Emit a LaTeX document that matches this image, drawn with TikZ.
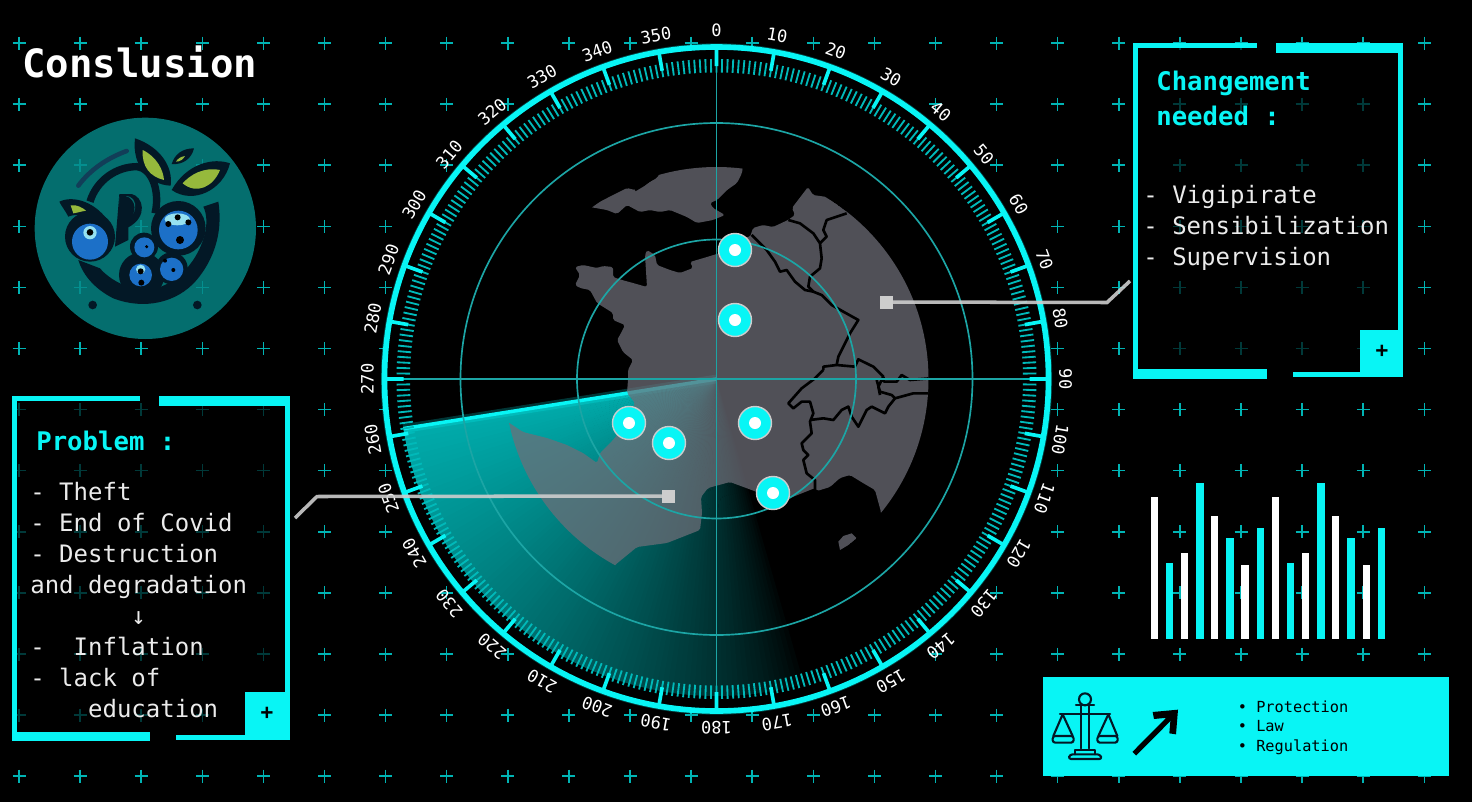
\documentclass[tikz,border=0pt]{standalone}
\usepackage{fontspec}
\setmainfont{DejaVu Sans Mono}
\usetikzlibrary{arrows.meta,calc}
\definecolor{scan}{RGB}{8,245,245}
\definecolor{sweepc}{RGB}{0,172,172}
\definecolor{dimline}{RGB}{28,165,165}
\definecolor{crossc}{RGB}{0,180,180}
\definecolor{minorc}{RGB}{0,185,185}
\definecolor{landc}{RGB}{110,110,120}
\definecolor{leadc}{RGB}{205,205,205}
\definecolor{logoc}{RGB}{6,135,135}
\definecolor{logoink}{RGB}{3,24,38}
\definecolor{logoarc}{RGB}{18,62,88}
\definecolor{berry}{RGB}{28,112,200}
\definecolor{berrylite}{RGB}{150,225,240}
\definecolor{leafc}{RGB}{150,185,60}

\begin{document}
\begin{tikzpicture}[
  x=0.02cm, y=-0.02cm,
  crossmark/.style={crossc, line width=0.85pt},
  frameback/.style={fill=black, opacity=0.68},
  framebar/.style={fill=scan},
  titletext/.style={text=white, font=\fontsize{22.2}{26}\bfseries\selectfont, anchor=base west, inner sep=0pt},
  headtext/.style={text=scan, align=left, font=\fontsize{14.6}{19.9}\bfseries\selectfont, anchor=base west, inner sep=0pt},
  bodytext/.style={text=white!92!black, align=left, font=\fontsize{13.66}{17.6}\selectfont, anchor=base west, inner sep=0pt},
  plusmark/.style={text=black, font=\fontsize{12}{12}\bfseries\selectfont, inner sep=0pt},
  lawtext/.style={text=black, align=left, font=\fontsize{8.7}{11.1}\selectfont, anchor=base west, inner sep=0pt},
  dialtext/.style={text=white, font=\fontsize{9.7}{10}\selectfont, inner sep=0pt},
  lawbox/.style={fill=scan, anchor=north west, inner sep=0pt, minimum width=8.12cm, minimum height=1.98cm},
  locdot/.style={circle, draw=leadc, fill=scan, line width=0.8pt, minimum size=0.66cm, inner sep=0pt},
  dotcore/.style={circle, fill=white, minimum size=0.24cm, inner sep=0pt},
  leadsq/.style={fill=leadc, minimum size=0.26cm, inner sep=0pt},
  leadline/.style={leadc, line width=2pt, opacity=0.9},
  rangering/.style={dimline, line width=0.95pt},
  minortick/.style={minorc, line width=1.05pt},
  majortick/.style={scan, line width=2.1pt},
  borderline/.style={black, line width=1.5pt, line join=round},
  inkline/.style={logoink, line width=1.2pt, line join=round, line cap=round}
]
\useasboundingbox (0,0) rectangle (1472,802);
\fill[black] (0,0) rectangle (1472,802);

\draw[crossmark] \foreach \i in {0,...,23}{\foreach \j in {0,...,12}{
  ({19+61.1*\i-6.5},{43+61.1*\j}) -- ++(13,0) ({19+61.1*\i},{43+61.1*\j-6.5}) -- ++(0,13)}};

\node[titletext] (title) at (22,77) {Conslusion};

\begin{scope}[shift={(0,20)}, scale=1/3]
  \fill[logoc, opacity=0.82] (436,625) circle (332);
  \draw[logoarc, line width=2.6pt, line cap=round] (235,497) .. controls (270,450) and (320,415) .. (380,393);
  \draw[logoink, line width=4.2pt] (270,545) .. controls (290,480) and (350,440) .. (410,440) .. controls (460,445) and (480,520) .. (465,580);
  \fill[logoink] (358,522) -- (395,522) .. controls (430,530) and (445,590) .. (385,622) -- (385,660) -- (345,680) -- cycle;
  \fill[logoc!78!black] (358,530) -- (362,590) .. controls (385,590) and (410,590) .. (405,550) .. controls (400,530) and (385,525) .. cycle;
  \fill[logoink] (358,528) -- (376,528) .. controls (410,535) and (415,590) .. (378,596) -- (358,596) -- cycle;
  \fill[logoink] (655,545) .. controls (670,640) and (640,720) .. (590,780) .. controls (530,850) and (430,870) .. (340,835) .. controls (290,810) and (250,770) .. (235,720) -- (300,745) .. controls (330,780) and (380,805) .. (430,810) .. controls (510,810) and (590,740) .. (615,640) .. controls (622,610) and (620,580) .. (610,560) -- cycle;
  \foreach \bx/\by/\hr in {270/650/75, 535/625/82, 425/765/68, 432/680/42, 515/745/48}{
    \fill[logoink] (\bx,\by) circle (\hr);
  }
  \foreach \bx/\by/\br in {270/665/54, 535/630/58, 422/765/34, 433/682/30, 515/748/35}{
    \fill[berry] (\bx,\by) circle (\br);
  }
  \fill[berrylite] (270,638) circle (20);
  \fill[berrylite] (532,598) ellipse (38 and 18);
  \fill[berrylite] (422,748) circle (14);
  \foreach \bx/\by/\br in {270/637/10, 505/612/9, 533/592/9, 565/607/9, 540/660/12, 422/754/9, 424/788/9, 440/680/5, 495/722/6, 520/750/6}{
    \fill[black] (\bx,\by) circle (\br);
  }
  \fill[logoink] (405,355) .. controls (480,380) and (520,440) .. (512,497) .. controls (450,495) and (395,440) .. cycle;
  \fill[leafc] (428,390) .. controls (470,410) and (490,450) .. (492,480) .. controls (450,470) and (425,440) .. cycle;
  \fill[logoink] (690,430) .. controls (640,412) and (560,430) .. (515,510) .. controls (580,555) and (670,510) .. cycle;
  \fill[leafc] (660,450) .. controls (610,440) and (570,465) .. (548,490) .. controls (590,525) and (640,500) .. cycle;
  \fill[logoink] (582,385) .. controls (550,385) and (525,400) .. (515,432) .. controls (550,435) and (575,415) .. cycle;
  \fill[leafc] (555,408) .. controls (540,410) and (532,418) .. (528,425) .. controls (540,425) and (550,418) .. cycle;
  \fill[logoink] (178,545) .. controls (230,520) and (310,560) .. (335,625) -- (280,592) .. controls (245,580) and (215,585) .. (205,590) .. controls (195,570) and (185,560) .. cycle;
  \fill[leafc] (212,556) .. controls (230,552) and (250,565) .. (258,572) .. controls (240,575) and (225,580) .. (220,580) -- cycle;
  \fill[logoink] (278,855) circle (13);
  \fill[logoink] (592,855) circle (13);
\end{scope}

\fill[frameback] (12,396) rectangle (290,740);
\fill[framebar] (12,396) rectangle (140,400.5);
\fill[framebar] (159,396) rectangle (290,405.5);
\fill[framebar] (12,396) rectangle (17,741);
\fill[framebar] (285,396) rectangle (290,740);
\fill[framebar] (12,732) rectangle (150,741);
\fill[framebar] (176,735) rectangle (245,740);
\fill[framebar] (245,692) rectangle (290,740);
\node[plusmark] (plusleft) at (267,713) {+};
\node[headtext] (probhead) at (36,450) {Problem :};
\node[bodytext] (probtext) at (30,717) {-~Theft\\-~End of Covid\\-~Destruction\\and degradation\\~~~~~~~↓\\-~~Inflation\\-~lack of\\~~~~education};

\fill[frameback] (1133,43) rectangle (1403,378);
\fill[framebar] (1133,43) rectangle (1257,48);
\fill[framebar] (1276,43) rectangle (1403,53);
\fill[framebar] (1133,43) rectangle (1138,378.5);
\fill[framebar] (1398,43) rectangle (1403,377);
\fill[framebar] (1133,369) rectangle (1267,378.5);
\fill[framebar] (1293,372) rectangle (1360,377);
\fill[framebar] (1360,330) rectangle (1403,377);
\node[plusmark] (plusright) at (1382,351) {+};
\node[headtext] (needhead) at (1156,125) {Changement\\needed :};
\node[bodytext] (needtext) at (1143,265) {-~Vigipirate\\-~Sensibilization\\-~Supervision};

\begin{scope}[shift={(1030,470)}, scale=1/3]
  \foreach \bx/\btop/\bcol in {373/80/white, 418/278/scan, 464/250/white, 510/38/scan, 554/138/white, 600/205/scan, 645/286/white, 691/174/scan, 736/80/white, 782/278/scan, 827/250/white, 873/38/scan, 917/138/white, 963/205/scan, 1009/286/white, 1054/174/scan}{
    \fill[\bcol] ({\bx-11},\btop) rectangle ({\bx+11},508);
  }
\end{scope}

\node[lawbox] (lawpanel) at (1043,677) {};
\node[lawtext] (lawlist) at (1237.5,751) {•~Protection\\•~Law\\•~Regulation};

\begin{scope}[shift={(1030,470)}, scale=1/3]
  \draw[inkline] (165,688) circle (18);
  \draw[inkline] (152,706) -- (152,835) (178,706) -- (178,835) (138,705) -- (192,705);
  \draw[inkline] (90,733) -- (240,733);
  \draw[inkline] (70,798) -- (98,733) -- (128,798) (205,798) -- (235,733) -- (262,798);
  \draw[inkline, rounded corners=1.5pt] (68,798) rectangle (131,818);
  \draw[inkline, rounded corners=1.5pt] (202,798) rectangle (263,818);
  \draw[inkline] (135,853) -- (135,840) -- (195,840) -- (195,853);
  \draw[inkline, rounded corners=1.5pt] (115,867) -- (120,853) -- (210,853) -- (216,867) -- cycle;
  \draw[black, line width=3pt] (313,851) -- (425,738);
  \fill[black] (368,726) -- (444,719) -- (438,793) -- (418,790) -- (422,742) -- (372,747) -- cycle;
\end{scope}

\begin{scope}[shift={(716.5,379)}]
  \fill[black] (0,0) circle (332);
  \foreach \b in {164,...,260}{
    \pgfmathsetmacro{\amt}{100*((\b-163)/98)^0.72}
    \fill[sweepc!\amt!black] (0,0) -- ({\b-90}:317) -- ({\b-88.8}:317) -- cycle;
  }
  \draw[scan, line width=5pt, opacity=0.22] (0,0) -- ({261-90}:317);
  \draw[scan, line width=2pt] (0,0) -- ({261-90}:317);
\end{scope}

\begin{scope}
  \clip (716.5,379) circle (212);
  \fill[landc, opacity=0.73, rounded corners=1pt]
    (808,187) -- (813,195) -- (827,197) -- (847,212) -- (1000,250) -- (1000,560) -- (881,520) -- (881,512) -- (875,490) -- (863,483) -- (850,475) -- (840,478) -- (830,487) -- (817,491) -- (815,488) -- (790,498) -- (773,493) -- (757,492) -- (730,482) -- (708,488) -- (701,497) -- (702,513) -- (700,530) -- (667,543) -- (637,547) -- (615,565) -- (560,640) -- (440,500) -- (490,420) -- (508,422) -- (523,432) -- (547,438) -- (567,445) -- (583,453) -- (597,463) -- (600,453) -- (613,440) -- (627,423) -- (635,403) -- (627,393) -- (628,380) -- (628,370) -- (633,360) -- (623,352) -- (617,340) -- (620,335) -- (625,325) -- (613,320) -- (613,313) -- (597,303) -- (590,290) -- (580,288) -- (575,285) -- (580,275) -- (575,267) -- (583,265) -- (597,268) -- (603,266) -- (613,267) -- (613,277) -- (622,280) -- (633,283) -- (647,287) -- (645,255) -- (647,250) -- (655,255) -- (657,265) -- (670,270) -- (680,273) -- (693,268) -- (690,262) -- (707,257) -- (720,253) -- (735,237) -- (750,237) -- (753,228) -- (763,225) -- (773,227) -- (788,220) -- (795,215) -- (792,208) -- cycle;
  \fill[landc, opacity=0.73, rounded corners=1pt]
    (590,207) -- (613,195) -- (627,188) -- (635,190) -- (657,178) -- (660,173) -- (660,150) -- (745,150) -- (742,173) -- (737,183) -- (727,190) -- (717,200) -- (710,203) -- (713,208) -- (725,215) -- (713,220) -- (697,223) -- (687,217) -- (670,210) -- (660,212) -- (650,210) -- (640,212) -- (627,205) -- (617,214) -- (607,210) -- cycle;
  \begin{scope}[shift={(760,370)}, scale=1/3]
    \fill[landc, opacity=0.73] (240,540) -- (235,515) -- (250,498) -- (275,490) -- (290,505) -- (265,525) -- cycle;
  \end{scope}
  \begin{scope}[shift={(480,140)}, scale=1/3]
    \draw[borderline] (465,150) -- (490,135) -- (530,105);
    \draw[borderline] (815,285) -- (860,330) -- (885,365) -- (900,395) -- (920,390) -- (945,425) -- (975,450) -- (1000,455) -- (1025,465) -- (1055,495) -- (1090,515) -- (1135,540) -- (1110,580) -- (1090,620) -- (1075,650) -- (1070,675) -- (1030,680) -- (1030,690);
    \draw[borderline] (925,240) -- (960,250) -- (1000,280) -- (1020,310) -- (1025,355) -- (1020,385) -- (990,410) -- (985,440) -- (1000,455);
    \draw[borderline] (1100,220) -- (1040,240) -- (1030,270) -- (1040,290) -- (1020,310);
    \draw[borderline] (1070,675) -- (1125,680) -- (1135,658) -- (1180,680) -- (1210,710) -- (1195,740) -- (1200,765);
    \draw[borderline] (1210,710) -- (1210,725);
  \end{scope}
  \begin{scope}[shift={(760,370)}, scale=1/3]
    \draw[borderline] (190,0) -- (165,25) -- (125,55) -- (85,100) -- (100,115) -- (125,95) -- (150,95) -- (160,130) -- (150,155) -- (155,190) -- (125,220) -- (130,240) -- (145,255) -- (130,270) -- (140,310) -- (165,330) -- (165,360);
    \draw[borderline] (150,150) -- (190,145) -- (220,150) -- (245,120) -- (265,110) -- (275,140) -- (295,170) -- (320,120) -- (335,110) -- (375,130) -- (385,110) -- (405,85) -- (460,70) -- (510,70);
    \draw[borderline] (350,30) -- (360,65) -- (395,75) -- (405,85);
    \draw[borderline] (370,35) -- (410,35) -- (425,15) -- (450,30) -- (510,25);
  \end{scope}
\end{scope}

\begin{scope}[shift={(716.5,379)}]
  \draw[rangering] (0,0) circle (139.5);
  \draw[rangering] (0,0) circle (256);
  \draw[rangering] (0,-332) -- (0,332) (-332,0) -- (332,0);
  \draw[minortick] \foreach \a in {0,...,359}{({\a-90}:306.5) -- ({\a-90}:320)};
  \draw[majortick] \foreach \a in {0,10,...,350}{({\a-90}:313) -- ({\a-90}:332)};
  \draw[scan, line width=1.9pt, opacity=0.25] (0,0) circle (334);
  \draw[scan, line width=3.2pt] (0,0) circle (332);
  \foreach \a in {0,10,...,350}{
    \node[dialtext, rotate=-\a] (dial\a) at ({\a-90}:349) {\a};
  }
\end{scope}

\node[leadsq] (srcright) at (886,302) {};
\coordinate (kneeright) at (1107,302.5);
\coordinate (endright) at (1130,281);
\draw[leadline] (srcright.center) -- (kneeright) -- (endright);
\node[leadsq] (srcleft) at (668,496) {};
\coordinate (kneeleft) at (317,496.5);
\coordinate (endleft) at (295,518);
\draw[leadline] (srcleft.center) -- (kneeleft) -- (endleft);

\foreach \dname/\dx/\dy in {calais/735/250, paris/735/320, bordeaux/629/423, toulouse/669/443, lyon/755/423, nice/773/493}{
  \node[locdot] (\dname) at (\dx,\dy) {};
  \node[dotcore] (\dname core) at (\dname) {};
}
\end{tikzpicture}
\end{document}
